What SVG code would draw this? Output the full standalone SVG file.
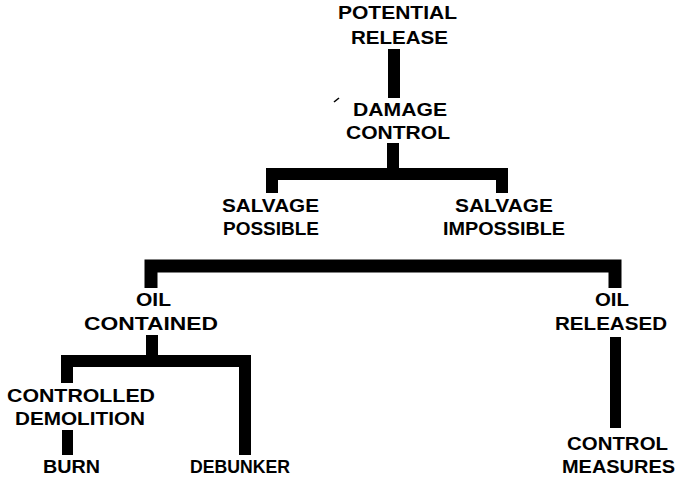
<svg xmlns="http://www.w3.org/2000/svg" width="676" height="482" viewBox="0 0 676 482">
<style>
  .t { font-family: "Liberation Sans", Arial, Helvetica, sans-serif; font-weight: bold; font-size: 19px; fill: #000; }
  .c { fill: none; stroke: #000; stroke-linejoin: miter; stroke-linecap: butt; }
</style>
<rect width="676" height="482" fill="#fff"/>
<g id="connectors">
  <path class="c" stroke-width="12" d="M394,49 V98"/>
  <path class="c" stroke-width="12" d="M393,143 V174"/>
  <path class="c" stroke-width="12" d="M272,193 V174 H502 V193"/>
  <path class="c" stroke-width="13" d="M151,288 V266 H615 V288"/>
  <path class="c" stroke-width="12" d="M152,335 V361"/>
  <path class="c" stroke-width="12" d="M67,383 V361 H245 V455"/>
  <path class="c" stroke-width="11" d="M67.5,430 V455"/>
  <path class="c" stroke-width="11" d="M615.5,337 V428"/>
</g>
<path d="M334,102 L339,98" stroke="#000" stroke-width="1.6" fill="none"/>
<g id="potential-release">
  <text class="t" x="338" y="19" textLength="119" lengthAdjust="spacingAndGlyphs">POTENTIAL</text>
  <text class="t" x="351" y="44" textLength="97" lengthAdjust="spacingAndGlyphs">RELEASE</text>
</g>
<g id="damage-control">
  <text class="t" x="353" y="116" textLength="94" lengthAdjust="spacingAndGlyphs">DAMAGE</text>
  <text class="t" x="346" y="139" textLength="104" lengthAdjust="spacingAndGlyphs">CONTROL</text>
</g>
<g id="salvage-possible">
  <text class="t" x="222" y="212" textLength="97" lengthAdjust="spacingAndGlyphs">SALVAGE</text>
  <text class="t" x="223" y="235" textLength="96" lengthAdjust="spacingAndGlyphs">POSSIBLE</text>
</g>
<g id="salvage-impossible">
  <text class="t" x="455" y="212" textLength="98" lengthAdjust="spacingAndGlyphs">SALVAGE</text>
  <text class="t" x="443" y="235" textLength="122" lengthAdjust="spacingAndGlyphs">IMPOSSIBLE</text>
</g>
<g id="oil-contained">
  <text class="t" x="136" y="306" textLength="35" lengthAdjust="spacingAndGlyphs">OIL</text>
  <text class="t" x="84" y="330" textLength="134" lengthAdjust="spacingAndGlyphs">CONTAINED</text>
</g>
<g id="oil-released">
  <text class="t" x="595" y="306" textLength="34" lengthAdjust="spacingAndGlyphs">OIL</text>
  <text class="t" x="555" y="330" textLength="112" lengthAdjust="spacingAndGlyphs">RELEASED</text>
</g>
<g id="controlled-demolition">
  <text class="t" x="7" y="402" textLength="148" lengthAdjust="spacingAndGlyphs">CONTROLLED</text>
  <text class="t" x="15" y="425" textLength="130" lengthAdjust="spacingAndGlyphs">DEMOLITION</text>
</g>
<g id="burn">
  <text class="t" x="43" y="473" textLength="57" lengthAdjust="spacingAndGlyphs">BURN</text>
</g>
<g id="debunker">
  <text class="t" x="190" y="473" textLength="100" lengthAdjust="spacingAndGlyphs">DEBUNKER</text>
</g>
<g id="control-measures">
  <text class="t" x="567" y="450" textLength="101" lengthAdjust="spacingAndGlyphs">CONTROL</text>
  <text class="t" x="562" y="473" textLength="113" lengthAdjust="spacingAndGlyphs">MEASURES</text>
</g>
</svg>
